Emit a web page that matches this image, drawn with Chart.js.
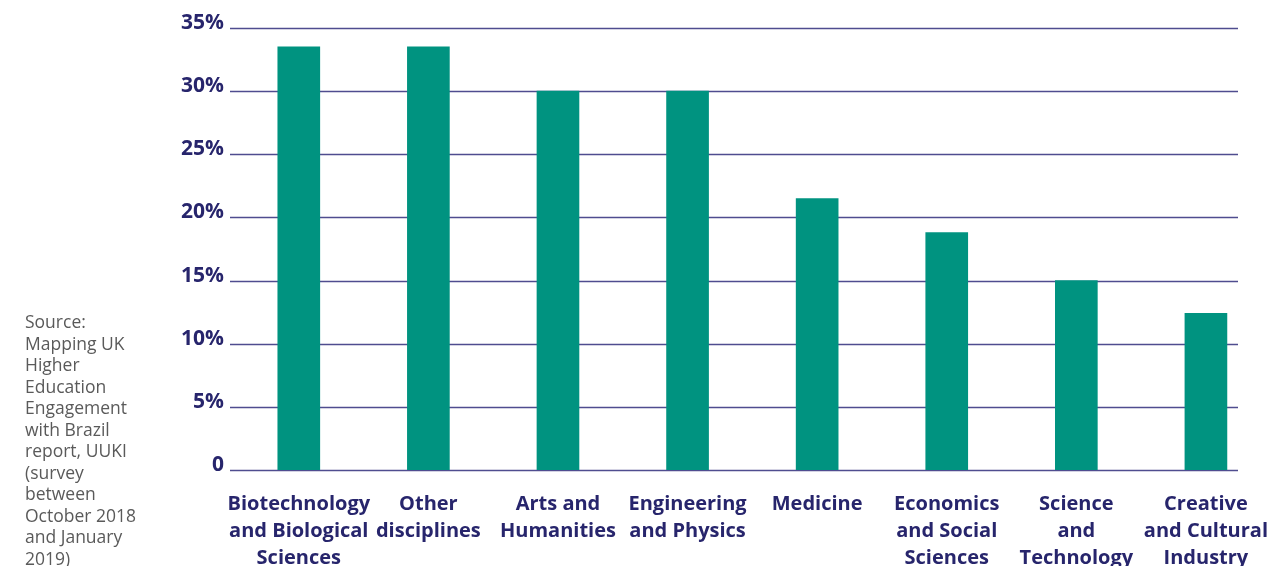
<!DOCTYPE html>
<html>
<head>
<meta charset="utf-8">
<script src="https://cdn.jsdelivr.net/npm/chart.js@4/dist/chart.umd.min.js"></script>
<style>
  html, body { margin: 0; padding: 0; background: #fff; }
  #wrap { position: relative; width: 1281px; height: 566px; }
  #source {
    position: absolute; left: 25px; top: 311px;
    font-family: 'Open Sans', sans-serif; font-size: 17.5px; line-height: 21.5px;
    color: #5a5a5a;
  }
</style>
</head>
<body>
<div id="wrap">
  <canvas id="chart" width="1281" height="566"></canvas>
  <div id="source">Source:<br>Mapping UK<br>Higher<br>Education<br>Engagement<br>with Brazil<br>report, UUKI<br>(survey<br>between<br>October 2018<br>and January<br>2019)</div>
</div>
<script>
const categories = [
  ['Biotechnology', 'and Biological', 'Sciences'],
  ['Other', 'disciplines'],
  ['Arts and', 'Humanities'],
  ['Engineering', 'and Physics'],
  ['Medicine'],
  ['Economics', 'and Social', 'Sciences'],
  ['Science', 'and', 'Technology'],
  ['Creative', 'and Cultural', 'Industry']
];
const shares = [33.5, 33.5, 30, 30, 21.5, 18.8, 15, 12.4];
const yTicks = [0, 5, 10, 15, 20, 25, 30, 35];

const navy = '#27256c';
const gridColor = '#4f4d8f';

// horizontal rules under the bars; they stop short of the last label
const hRules = {
  id: 'hRules',
  beforeDatasetsDraw(chart) {
    const { ctx, chartArea, scales } = chart;
    ctx.save();
    ctx.strokeStyle = gridColor;
    ctx.lineWidth = 1.6;
    yTicks.forEach(v => {
      const y = Math.round(scales.y.getPixelForValue(v)) + 0.5;
      ctx.beginPath();
      ctx.moveTo(chartArea.left - 4, y);
      ctx.lineTo(chart.width - 43, y);
      ctx.stroke();
    });
    ctx.restore();
  }
};

new Chart(document.getElementById('chart'), {
  type: 'bar',
  data: {
    labels: categories,
    datasets: [{
      data: shares,
      backgroundColor: '#009380',
      barThickness: 42
    }]
  },
  options: {
    responsive: false,
    animation: false,
    layout: { padding: { top: 28, right: 0, left: 0, bottom: 0 } },
    plugins: { legend: { display: false }, tooltip: { enabled: false } },
    scales: {
      x: {
        grid: { display: false },
        border: { display: false },
        ticks: {
          color: navy,
          padding: 13,
          maxRotation: 0,
          autoSkip: false,
          font: { family: 'Open Sans', weight: 'bold', size: 20, lineHeight: '27px' }
        },
        afterFit(scale) { scale.height = 96; }
      },
      y: {
        min: 0,
        max: 35,
        afterBuildTicks(scale) { scale.ticks = yTicks.map(v => ({ value: v })); },
        grid: { display: false },
        border: { display: false },
        ticks: {
          color: navy,
          padding: 2,
          labelOffset: -5,
          font: { family: 'Open Sans', weight: 'bold', size: 21 },
          callback: v => v === 0 ? '0' : v + '%'
        },
        afterFit(scale) { scale.width = 234; }
      }
    }
  },
  plugins: [hRules]
});
</script>
</body>
</html>
